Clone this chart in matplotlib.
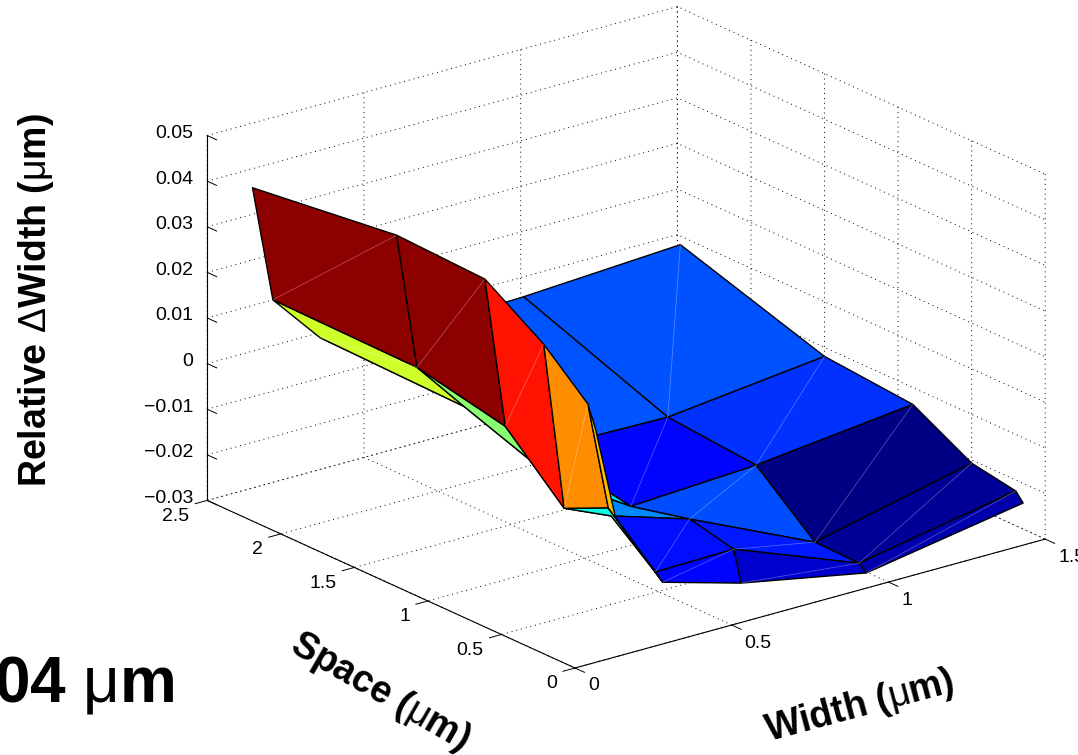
import numpy as np
import matplotlib
matplotlib.use('Agg')
import matplotlib.pyplot as plt
from mpl_toolkits.mplot3d import proj3d

plt.rcParams['font.family'] = ['Liberation Sans', 'DejaVu Sans']
plt.rcParams['mathtext.fontset'] = 'custom'
plt.rcParams['mathtext.rm'] = 'Liberation Sans'

W, H = 1078, 755

# grid
width = [0.135, 0.20, 0.35, 0.60, 1.00, 1.50]
space = [2.48, 1.50, 0.90, 0.50, 0.20, 0.15]

# rows follow space, columns follow width
dwidth = [
    [0.0363, 0.0105, -0.0006, -0.0047, -0.0039, -0.0019],
    [0.0403, 0.0101, -0.0013, -0.0154, -0.0159, -0.0120],
    [0.0395, 0.0060, -0.0082, -0.0191, -0.0176, -0.0137],
    [0.0311, -0.0061, -0.0106, -0.0160, -0.0286, -0.0207],
    [0.0224, -0.0016, -0.0185, -0.0182, -0.0288, -0.0224],
    [0.0179, -0.0031, -0.0200, -0.0249, -0.0302, -0.0243],
]

# colour of each facet, position on the jet map
facet_c = [
    [0.985, 0.60, 0.40, 0.21, 0.205],
    [0.985, 0.515, 0.35, 0.13, 0.175],
    [0.89, 0.40, 0.26, 0.20, 0.005],
    [0.76, 0.37, 0.14, 0.15, 0.02],
    [0.71, 0.37, 0.13, 0.07, 0.04],
]

# facets where the split of the quad shows as a faint line
split_facets = [(0, 0), (1, 0), (2, 0), (3, 0), (0, 1), (0, 4), (1, 4), (2, 4), (3, 4), (4, 4),
                (1, 3), (2, 3), (3, 3), (4, 3), (3, 2), (4, 2)]

width_ticks = [0, 0.5, 1, 1.5]
width_labels = ['0', '0.5', '1', '1.5']
space_ticks = [0, 0.5, 1, 1.5, 2, 2.5]
space_labels = ['0', '0.5', '1', '1.5', '2', '2.5']
z_ticks = [-0.03, -0.02, -0.01, 0, 0.01, 0.02, 0.03, 0.04, 0.05]
z_labels = ['\u22120.03', '\u22120.02', '\u22120.01', '0', '0.01', '0.02', '0.03', '0.04', '0.05']

fig = plt.figure(figsize=(W / 100, H / 100), dpi=100)
ax = fig.add_axes([0, 0, 1, 1], projection='3d', proj_type='ortho')
ax.view_init(elev=20.7, azim=-127.8)
ax.set_box_aspect((595, 600, 390))
ax.computed_zorder = False

X, Y = np.meshgrid(width, space)
Z = np.array(dwidth)
colors = plt.cm.jet(np.array(facet_c))
ax.plot_surface(X, Y, Z, rstride=1, cstride=1, facecolors=colors, shade=False,
                edgecolor='black', linewidth=1.0, antialiased=True, zorder=2)

for i, j in split_facets:
    ax.plot([X[i, j + 1], X[i + 1, j]], [Y[i, j + 1], Y[i + 1, j]], [Z[i, j + 1], Z[i + 1, j]],
            color='white', alpha=0.3, linewidth=0.6, zorder=3)

ax.set_xlim(0, 1.5)
ax.set_ylim(0, 2.5)
ax.set_zlim(-0.03, 0.05)
ax.set_xticks(width_ticks)
ax.set_yticks(space_ticks)
ax.set_zticks(z_ticks)
ax.set_xticklabels([])
ax.set_yticklabels([])
ax.set_zticklabels([])

for axis in (ax.xaxis, ax.yaxis, ax.zaxis):
    axis.set_pane_color((1, 1, 1, 0))
    axis.pane.set_edgecolor('none')
    axis._axinfo['grid'].update(color='black', linestyle=(0, (1, 4)), linewidth=0.7)
    # negative: the ticks have to stick out of the box here
    axis._axinfo['tick'].update(inward_factor=0.0, outward_factor=-0.32, linewidth={True: 0.7, False: 0.7})
    axis.line.set_linewidth(0.8)
# z ticks run along space in the original
ax.zaxis._get_tickdir = lambda pos: 1


def corner_px(x, y, z):
    px, py, _ = proj3d.proj_transform(x, y, z, ax.get_proj())
    return ax.transData.transform((px, py))


# fit the box to where the reference has it
S = 1000.0
L, B = 0.0, 0.0
ax.set_position([L / W, B / H, S / W, S / H])
fig.canvas.draw()
p_space = corner_px(0, 2.5, -0.03)
p_width = corner_px(1.5, 0, -0.03)
S *= (1045 - 207) / (p_width[0] - p_space[0])
ax.set_position([L / W, B / H, S / W, S / H])
fig.canvas.draw()
p0 = corner_px(0, 0, -0.03)
L += 575 - p0[0]
B += (H - 668) - p0[1]
ax.set_position([L / W, B / H, S / W, S / H])
fig.canvas.draw()


def tick_label(x, y, z, lab, dx, dy, ha):
    px, py = corner_px(x, y, z)
    fig.text((px + dx) / W, (py + dy) / H, lab, fontsize=14, ha=ha, va='center')


for v, lab in zip(width_ticks, width_labels):
    tick_label(v, 0, -0.03, lab, 13, -18, 'left')
for v, lab in zip(space_ticks, space_labels):
    tick_label(0, v, -0.03, lab, -18, -16, 'right')
for v, lab in zip(z_ticks, z_labels):
    tick_label(0, 2.5, v, lab, -14, 2, 'right')

fig.text(36 / W, 1 - 300 / H, r'Relative $\mathrm{\Delta}$Width ($\mathrm{\mu}$m)', rotation=90, fontsize=27,
         fontweight='bold', ha='center', va='center')
fig.text(380 / W, 1 - 692 / H, r'Space ($\mathrm{\mu}$m)', rotation=-30, fontsize=27,
         fontweight='bold', ha='center', va='center', rotation_mode='anchor')
fig.text(860 / W, 1 - 706 / H, r'Width ($\mathrm{\mu}$m)', rotation=15, fontsize=27,
         fontweight='bold', ha='center', va='center', rotation_mode='anchor')
fig.text(174 / W, 1 - 701 / H, r'04 $\mathrm{\mu}$m', fontsize=46, fontweight='bold',
         ha='right', va='baseline')

fig.savefig('out.png', dpi=100)
